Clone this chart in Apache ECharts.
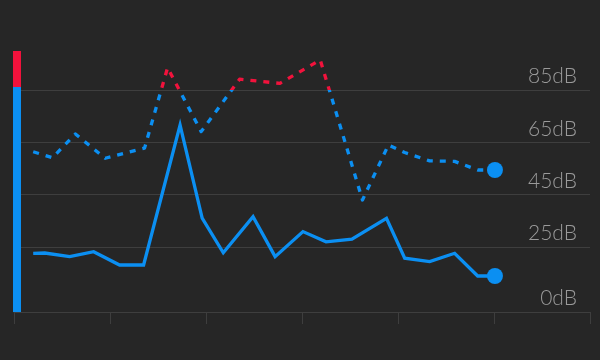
<!DOCTYPE html>
<html>
<head>
<meta charset="utf-8">
<script src="https://cdn.jsdelivr.net/npm/echarts@6/dist/echarts.min.js"></script>
<style>
html,body{margin:0;padding:0;background:#262626;}
#chart{width:600px;height:360px;}
</style>
</head>
<body>
<div id="chart"></div>
<script>
// Data
var solidX = [2.0, 3.2, 5.8, 8.3, 11.0, 13.5, 17.3, 19.6, 21.8, 24.9, 27.2, 30.1, 32.5, 35.2, 38.8, 40.7, 43.3, 45.9, 48.3, 50.1];
var solidY = [22.5, 22.6, 21.2, 23.1, 18.0, 18.0, 71.6, 36.0, 22.7, 36.5, 21.2, 30.8, 26.9, 27.9, 35.9, 20.6, 19.3, 22.5, 13.8, 13.8];
var dashedX = [2.0, 4.0, 6.4, 9.5, 13.6, 16.0, 19.5, 23.5, 27.7, 31.9, 36.3, 39.0, 40.7, 43.3, 45.9, 48.3, 50.1];
var dashedY = [61.4, 59.1, 68.2, 58.9, 62.8, 93.6, 69.1, 89.2, 87.6, 96.6, 42.9, 64.0, 61.1, 57.9, 57.7, 54.4, 54.4];
var yTicks = [0, 25, 45, 65, 85];
var threshold = 85;
var yMax = 100;

var BLUE = '#0b8ff2';
var RED = '#f2123c';

function toPairs(xs, ys) {
  return xs.map(function (x, i) {
    var item = { value: [x, ys[i]] };
    if (i === xs.length - 1) {
      item.symbol = 'circle';
      item.symbolSize = 16;
    }
    return item;
  });
}

var chart = echarts.init(document.getElementById('chart'));
chart.setOption({
  backgroundColor: '#262626',
  animation: false,
  grid: { left: 14, right: 10, top: 51, bottom: 48 },
  xAxis: {
    type: 'value',
    min: 0, max: 60, interval: 10,
    axisLine: { show: true, lineStyle: { color: '#3e3e3e', width: 1 } },
    axisTick: { show: true, length: 12, lineStyle: { color: '#3e3e3e' } },
    axisLabel: { show: false },
    splitLine: { show: false }
  },
  yAxis: [{
    type: 'value',
    position: 'right',
    min: 0, max: yMax,
    axisLine: { show: false },
    axisTick: { show: false, customValues: yTicks },
    splitLine: { show: true, lineStyle: { color: '#3e3e3e', width: 1 } },
    axisLabel: {
      inside: true,
      customValues: yTicks,
      margin: 13,
      verticalAlign: 'bottom',
      padding: [0, 0, 3, 0],
      color: '#9a9a9a',
      fontFamily: 'Lato',
      fontWeight: 300,
      fontSize: 21,
      formatter: function (v) { return v + 'dB'; }
    }
  }, {
    type: 'value',
    position: 'left',
    offset: -3,
    min: 0, max: yMax,
    axisLine: {
      show: true,
      lineStyle: {
        width: 8,
        cap: 'butt',
        color: new echarts.graphic.LinearGradient(0, 0, 0, 1, [
          { offset: 0, color: RED },
          { offset: 1 - threshold / yMax, color: RED },
          { offset: 1 - threshold / yMax, color: BLUE },
          { offset: 1, color: BLUE }
        ])
      }
    },
    axisTick: { show: false },
    axisLabel: { show: false },
    splitLine: { show: false }
  }],
  visualMap: {
    show: false,
    type: 'piecewise',
    dimension: 1,
    seriesIndex: [0, 1],
    pieces: [
      { gt: threshold, lte: yMax, color: RED },
      { gte: 0, lte: threshold, color: BLUE }
    ],
    outOfRange: { color: BLUE }
  },
  series: [{
    type: 'line',
    data: toPairs(solidX, solidY),
    symbol: 'none',
    lineStyle: { width: 3.3, join: 'miter' },
    itemStyle: { color: BLUE }
  }, {
    type: 'line',
    data: toPairs(dashedX, dashedY),
    symbol: 'none',
    lineStyle: { width: 3.3, type: [6, 7], join: 'round' },
    itemStyle: { color: BLUE }
  }]
});
</script>
</body>
</html>
